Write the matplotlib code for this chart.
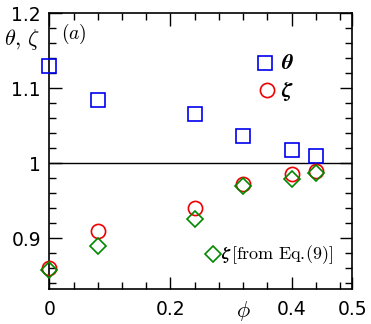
import matplotlib
matplotlib.use("Agg")
import matplotlib.pyplot as plt
from matplotlib.ticker import MultipleLocator, FixedLocator

plt.rcParams['mathtext.fontset'] = 'cm'
plt.rcParams['font.family'] = ['DejaVu Sans']

phi = [0.0, 0.08, 0.24, 0.32, 0.40, 0.44]
theta = [1.130, 1.084, 1.066, 1.036, 1.018, 1.010]
zeta = [0.860, 0.910, 0.940, 0.972, 0.986, 0.990]
zeta_eq9 = [0.857, 0.889, 0.925, 0.969, 0.979, 0.987]
xticks = [0, 0.2, 0.4, 0.5]
xticklabels = ['0', '0.2', '0.4', '0.5']
yticks = [0.9, 1.0, 1.1, 1.2]
yticklabels = ['0.9', '1', '1.1', '1.2']

fig = plt.figure(figsize=(3.71, 3.24), dpi=100)
ax = fig.add_axes([0.133, 0.108, 0.816, 0.851])

ax.axhline(1.0, color='black', lw=1.0, zorder=1)
ax.plot(phi, theta, 's', ms=10.2, mfc='none', mec='#0000ee', mew=1.2, clip_on=False, zorder=3)
ax.plot(phi, zeta, 'o', ms=10.2, mfc='none', mec='#ee0000', mew=1.2, clip_on=False, zorder=3)
ax.plot(phi, zeta_eq9, 'D', ms=8.6, mfc='none', mec='#008800', mew=1.2, clip_on=False, zorder=4)

ax.set_xlim(0, 0.5)
ax.set_ylim(0.832, 1.2)
ax.xaxis.set_major_locator(FixedLocator(xticks))
ax.set_xticklabels(xticklabels)
ax.xaxis.set_minor_locator(MultipleLocator(0.04))
ax.yaxis.set_major_locator(FixedLocator(yticks))
ax.set_yticklabels(yticklabels)
ax.yaxis.set_minor_locator(MultipleLocator(0.02))
ax.tick_params(which='both', direction='in', top=True, right=True, labelsize=13.5, width=1.0, color='black')
ax.tick_params(axis='x', which='major', pad=8)
ax.tick_params(axis='y', which='major', pad=6)
ax.tick_params(which='major', length=9)
ax.tick_params(which='minor', length=5)
for s in ax.spines.values():
    s.set_linewidth(1.2)

# legend markers & labels
ax.plot([0.357], [1.1335], 's', ms=10.2, mfc='none', mec='#0000ee', mew=1.2)
ax.text(0.382, 1.1335, r'$\boldsymbol{\theta}$', fontsize=16, va='center', ha='left')
ax.plot([0.359], [1.097], 'o', ms=10.2, mfc='none', mec='#ee0000', mew=1.2)
ax.text(0.382, 1.095, r'$\boldsymbol{\zeta}$', fontsize=16, va='center', ha='left')
ax.plot([0.270], [0.879], 'D', ms=8.6, mfc='none', mec='#008800', mew=1.2)
ax.text(0.284, 0.878, r'$\boldsymbol{\zeta}\,\mathrm{[from\ Eq.\!(9)]}$', fontsize=13, va='center', ha='left')

ax.text(0.020, 1.188, r'$(a)$', fontsize=14, va='top', ha='left')
fig.text(0.060, 0.877, r'$\theta,\,\zeta$', fontsize=16, ha='center', va='center')
fig.text(0.655, 0.04, r'$\phi$', fontsize=16, ha='center', va='center')

fig.savefig('out.png', dpi=100)
